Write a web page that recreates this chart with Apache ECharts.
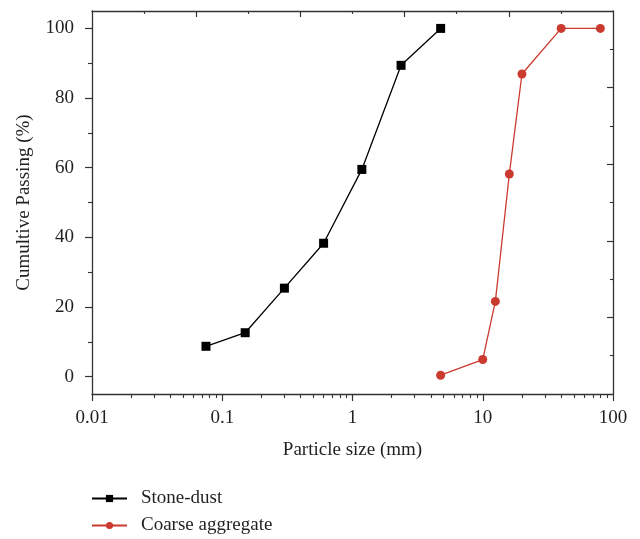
<!DOCTYPE html>
<html>
<head>
<meta charset="utf-8">
<script src="https://cdn.jsdelivr.net/npm/echarts@6/dist/echarts.min.js"></script>
<style>
  html, body { margin: 0; padding: 0; background: #fff; }
  #grafico { width: 640px; height: 539px; }
</style>
</head>
<body>
<div id="grafico"></div>
<script>
// particle sizes (mm) and cumulative passing (%)
const tamanhoPo = [0.075, 0.15, 0.3, 0.6, 1.18, 2.36, 4.75]
const passaPo = [8.7, 12.6, 25.4, 38.3, 59.5, 89.4, 100]
const tamanhoGraudo = [4.75, 10, 12.5, 16, 20, 40, 80]
const passaGraudo = [0.4, 4.9, 21.6, 58.2, 86.9, 100, 100]

const xMajor = [0.01, 0.1, 1, 10, 100]
const xMinor = [2, 3, 4, 5, 6, 7, 8, 9]
const yMajor = [0, 20, 40, 60, 80, 100]
const yMinor = [10, 30, 50, 70, 90]

const nomes = ['Stone-dust', 'Coarse aggregate']
const cores = ['#000000', '#cb3a2f']

const fonte = 'Liberation Serif'
const tam = 19
const corEixo = '#333'
const corTexto = '#231f20'

const minorX = []
xMajor.slice(0, -1).forEach(d => xMinor.forEach(m => minorX.push(+(d * m).toPrecision(3))))

const juntar = (xs, ys) => xs.map((x, i) => [x, ys[i]])

const caixa = { left: 92, right: 27, top: 11, bottom: 145 }
const linha = { show: true, onZero: false, lineStyle: { color: corEixo, width: 1.3 } }
const semLinha = { show: false, onZero: false }

const dom = document.getElementById('grafico')
const myChart = echarts.init(dom, null, { renderer: 'canvas' })

const option = {
    animation: false,
    backgroundColor: '#fff',
    grid: [
        Object.assign({ containLabel: false }, caixa),
        Object.assign({ containLabel: false }, caixa)
    ],
    legend: {
        orient: 'vertical',
        left: 91,
        top: 489,
        padding: 0,
        itemWidth: 35,
        itemHeight: 9,
        itemGap: 8,
        data: nomes,
        textStyle: { fontFamily: fonte, fontSize: tam, lineHeight: 19, color: corTexto, padding: [0, 0, 0, 9] }
    },
    xAxis: [
        {
            type: 'log', gridIndex: 0, position: 'bottom', min: 0.01, max: 100,
            axisLine: linha,
            axisTick: { customValues: xMajor, length: 7, inside: false, lineStyle: { color: corEixo, width: 1.2 } },
            axisLabel: {
                customValues: xMajor, margin: 15,
                fontFamily: fonte, fontSize: tam, color: corTexto,
                formatter: v => String(+(+v).toPrecision(3))
            },
            splitLine: { show: false },
            name: 'Particle size (mm)', nameLocation: 'middle', nameGap: 47,
            nameTextStyle: { fontFamily: fonte, fontSize: tam, color: corTexto }
        },
        {
            type: 'value', gridIndex: 0, position: 'top', min: 0, max: 10, interval: 1,
            axisLine: linha,
            axisTick: { customValues: [2, 4, 6, 8], length: 6, inside: true, lineStyle: { color: corEixo, width: 1.2 } },
            axisLabel: { show: false },
            splitLine: { show: false }
        },
        {
            type: 'log', gridIndex: 1, position: 'bottom', min: 0.01, max: 100,
            axisLine: semLinha,
            axisTick: { customValues: minorX, length: 4, inside: false, lineStyle: { color: corEixo, width: 1.1 } },
            axisLabel: { show: false },
            splitLine: { show: false }
        },
        {
            type: 'value', gridIndex: 1, position: 'top', min: 0, max: 10, interval: 1,
            axisLine: semLinha,
            axisTick: { customValues: [1, 3, 5, 7, 9], length: 3, inside: true, lineStyle: { color: corEixo, width: 1.1 } },
            axisLabel: { show: false },
            splitLine: { show: false }
        }
    ],
    yAxis: [
        {
            type: 'value', gridIndex: 0, position: 'left', min: -5, max: 105,
            axisLine: linha,
            axisTick: { customValues: yMajor, length: 7, inside: false, lineStyle: { color: corEixo, width: 1.2 } },
            axisLabel: { customValues: yMajor, margin: 18, fontFamily: fonte, fontSize: tam, color: corTexto },
            splitLine: { show: false },
            name: 'Cumultive Passing (%)', nameLocation: 'middle', nameGap: 58,
            nameTextStyle: { fontFamily: fonte, fontSize: tam, color: corTexto }
        },
        {
            type: 'value', gridIndex: 0, position: 'right', min: 0, max: 10, interval: 1,
            axisLine: linha,
            axisTick: { customValues: [2, 4, 6, 8], length: 6, inside: true, lineStyle: { color: corEixo, width: 1.2 } },
            axisLabel: { show: false },
            splitLine: { show: false }
        },
        {
            type: 'value', gridIndex: 1, position: 'left', min: -5, max: 105,
            axisLine: semLinha,
            axisTick: { customValues: yMinor, length: 4, inside: false, lineStyle: { color: corEixo, width: 1.1 } },
            axisLabel: { show: false },
            splitLine: { show: false }
        },
        {
            type: 'value', gridIndex: 1, position: 'right', min: 0, max: 10, interval: 1,
            axisLine: semLinha,
            axisTick: { customValues: [1, 3, 5, 7, 9], length: 3, inside: true, lineStyle: { color: corEixo, width: 1.1 } },
            axisLabel: { show: false },
            splitLine: { show: false }
        }
    ],
    series: [
        {
            name: nomes[0], type: 'line', xAxisIndex: 0, yAxisIndex: 0,
            data: juntar(tamanhoPo, passaPo),
            symbol: 'rect', symbolSize: 9,
            itemStyle: { color: cores[0] },
            lineStyle: { color: cores[0], width: 1.3 }
        },
        {
            name: nomes[1], type: 'line', xAxisIndex: 0, yAxisIndex: 0,
            data: juntar(tamanhoGraudo, passaGraudo),
            symbol: 'circle', symbolSize: 9,
            itemStyle: { color: cores[1] },
            lineStyle: { color: cores[1], width: 1.3 }
        }
    ]
}

myChart.setOption(option)
</script>
</body>
</html>
